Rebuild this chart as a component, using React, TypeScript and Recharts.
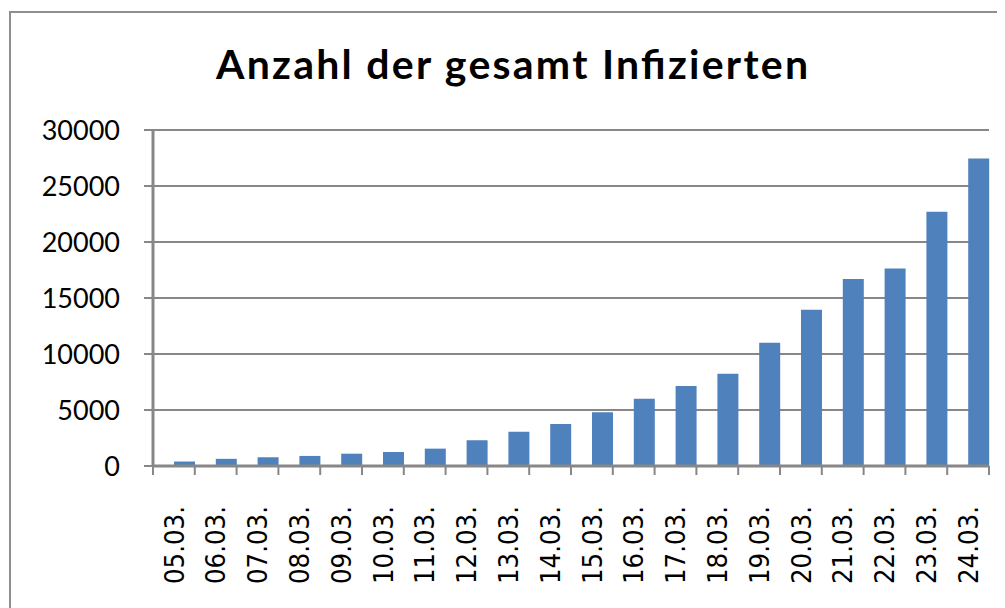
import { Bar, BarChart, CartesianGrid, XAxis, YAxis } from "recharts";

const datum = [
  "05.03.", "06.03.", "07.03.", "08.03.", "09.03.", "10.03.", "11.03.",
  "12.03.", "13.03.", "14.03.", "15.03.", "16.03.", "17.03.", "18.03.",
  "19.03.", "20.03.", "21.03.", "22.03.", "23.03.", "24.03.",
];

const infizierte = [
  400, 640, 780, 900, 1100, 1250, 1550, 2300, 3050, 3750,
  4800, 6000, 7150, 8230, 11000, 13960, 16700, 17640, 22700, 27450,
];

const yTicks = [0, 5000, 10000, 15000, 20000, 25000, 30000];

const data = datum.map((tag, i) => ({ tag, infizierte: infizierte[i] }));

const W = 997;
const H = 600;
const margin = { top: 122, right: 16, bottom: 0, left: 0 };
const yAxisWidth = 145;
const xAxisHeight = 142;
const plotWidth = W - margin.left - margin.right - yAxisWidth;
const band = plotWidth / datum.length;

const axisGrey = "#878787";

function DateTick(props: any) {
  const { x, y, payload, index } = props;
  const ty = y + 40;
  return (
    <g>
      <line x1={x - band / 2} y1={y} x2={x - band / 2} y2={y + 9} stroke={axisGrey} strokeWidth={2} />
      {index === datum.length - 1 && (
        <line x1={x + band / 2} y1={y} x2={x + band / 2} y2={y + 9} stroke={axisGrey} strokeWidth={2} />
      )}
      <text
        x={x}
        y={ty}
        transform={`rotate(-90, ${x}, ${ty})`}
        textAnchor="end"
        dy="0.36em"
        fontFamily="'DejaVu Sans', sans-serif"
        fontSize={27}
        textLength={78}
        lengthAdjust="spacingAndGlyphs"
        fill="#000"
      >
        {payload.value}
      </text>
    </g>
  );
}

export default function App() {
  return (
    <div style={{ position: "relative", width: W, height: H, overflow: "hidden", background: "#fff" }}>
      <div
        style={{
          position: "absolute",
          left: 1,
          top: 3,
          width: 1100,
          height: 800,
          borderTop: "2px solid #8f8f8f",
          borderLeft: "2px solid #8f8f8f",
        }}
      />
      <svg width={W} height={100} style={{ position: "absolute", left: 0, top: 0, pointerEvents: "none" }}>
        <text
          x={208}
          y={71}
          textAnchor="start"
          fontFamily="Lato, sans-serif"
          fontWeight="bold"
          fontSize={41}
          textLength={592}
          lengthAdjust="spacing"
          fill="#000"
        >
          Anzahl der gesamt Infizierten
        </text>
      </svg>
      <div style={{ position: "absolute", left: 0, top: 0 }}>
        <BarChart width={W} height={H} data={data} margin={margin} barCategoryGap={0} barGap={0}>
          <CartesianGrid vertical={false} stroke={axisGrey} strokeWidth={2} />
          <XAxis
            dataKey="tag"
            height={xAxisHeight}
            interval={0}
            tickLine={false}
            tickSize={0}
            tickMargin={0}
            axisLine={{ stroke: axisGrey, strokeWidth: 3 }}
            tick={<DateTick />}
          />
          <YAxis
            width={yAxisWidth}
            domain={[0, 30000]}
            ticks={yTicks}
            interval={0}
            tickSize={9}
            tickMargin={24}
            tickLine={{ stroke: axisGrey, strokeWidth: 2 }}
            axisLine={{ stroke: axisGrey, strokeWidth: 3 }}
            tick={{ fontFamily: "Lato, sans-serif", fontSize: 27, fill: "#000" }}
          />
          <Bar dataKey="leer" fill="none" isAnimationActive={false} />
          <Bar dataKey="infizierte" fill="#4F81BD" isAnimationActive={false} />
        </BarChart>
      </div>
    </div>
  );
}
